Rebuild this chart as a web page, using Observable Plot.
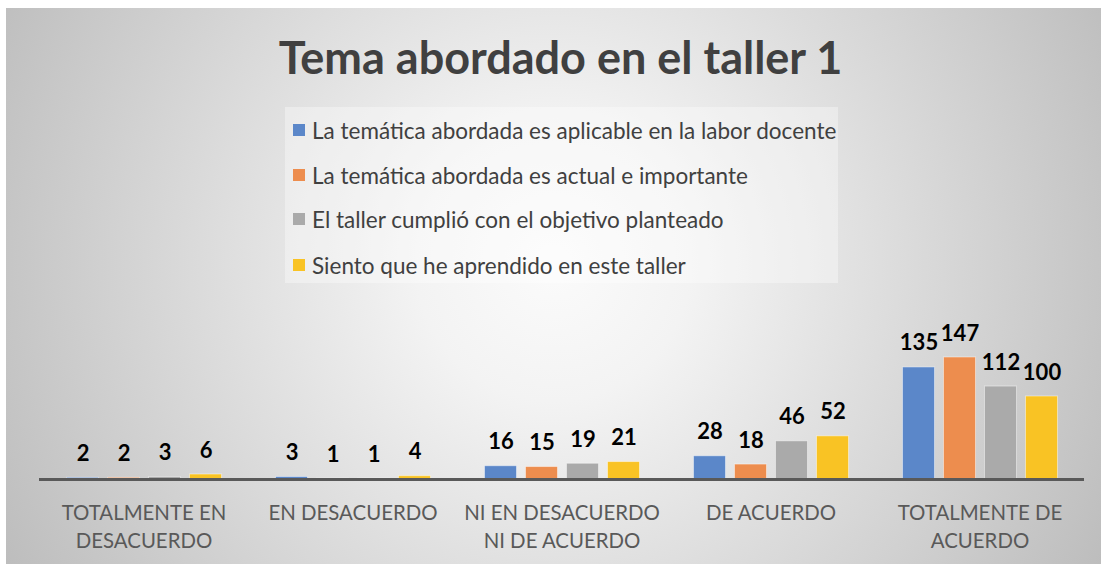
<!DOCTYPE html>
<html>
<head>
<meta charset="utf-8">
<script src="https://cdn.jsdelivr.net/npm/d3@7"></script>
<script src="https://cdn.jsdelivr.net/npm/@observablehq/plot@0.6"></script>
<style>
  body { margin: 0; background: #fff; }
  #wrap { position: relative; width: 1104px; height: 564px; overflow: hidden; background: #fff; font-family: Lato, "Open Sans", sans-serif; }
  #bg { position: absolute; left: 6px; top: 8px; width: 1095px; height: 556px;
        background: radial-gradient(circle farthest-corner at 50% 46%, #fbfbfb 0%, #f3f3f3 22%, #bdbdbd 100%); }
  #title { position: absolute; left: 0; width: 1121px; top: 35px; text-align: center; font-weight: 700;
           font-size: 45px; line-height: 45px; color: #404040; white-space: nowrap; }
  #legend { position: absolute; left: 285px; top: 107px; width: 553px; height: 176px; background: rgba(255,255,255,0.35); }
  .item { position: absolute; left: 8px; height: 22px; display: flex; align-items: center; font-size: 22.5px; color: #404040; white-space: nowrap; }
  .sw { width: 12px; height: 12px; margin-right: 7px; flex: none; }
  #chart { position: absolute; left: 0; top: 0; }
</style>
</head>
<body>
<div id="wrap">
  <div id="bg"></div>
  <div id="title">Tema abordado en el taller 1</div>
  <div id="legend"></div>
  <div id="chart"></div>
</div>
<script>
const categories = ["TOTALMENTE EN DESACUERDO", "EN DESACUERDO", "NI EN DESACUERDO NI DE ACUERDO", "DE ACUERDO", "TOTALMENTE DE ACUERDO"];
const categoryLabels = ["TOTALMENTE EN\nDESACUERDO", "EN DESACUERDO", "NI EN DESACUERDO\nNI DE ACUERDO", "DE ACUERDO", "TOTALMENTE DE\nACUERDO"];
const series = [
  "La temática abordada es aplicable en la labor docente",
  "La temática abordada es actual e importante",
  "El taller cumplió con el objetivo planteado",
  "Siento que he aprendido en este taller"
];
const aplicable = [2, 3, 16, 28, 135];
const actual    = [2, 1, 15, 18, 147];
const objetivo  = [3, 1, 19, 46, 112];
const aprendido = [6, 4, 21, 52, 100];
const colors = ["#5b87c9", "#ed8d4e", "#aaaaaa", "#f9c324"];

const seriesValues = [aplicable, actual, objetivo, aprendido];
const rows = [];
categories.forEach((c, i) => {
  series.forEach((s, j) => rows.push({category: c, series: s, value: seriesValues[j][i]}));
});

// legend
const legend = document.getElementById("legend");
const legendCenters = [23, 68, 112, 158];
series.forEach((s, j) => {
  const it = document.createElement("div");
  it.className = "item";
  it.style.top = (legendCenters[j] - 11) + "px";
  const sw = document.createElement("div");
  sw.className = "sw";
  sw.style.background = colors[j];
  const t = document.createElement("span");
  t.textContent = s;
  it.appendChild(sw); it.appendChild(t);
  legend.appendChild(it);
});

const chart = Plot.plot({
  width: 1104,
  height: 564,
  marginLeft: 37.5,
  marginRight: 19,
  marginTop: 354.5,
  marginBottom: 85,
  style: {background: "transparent", fontFamily: "Lato, 'Open Sans', sans-serif", overflow: "visible"},
  fx: {domain: categories, padding: 0, axis: null},
  x: {domain: series, paddingInner: 0.23, paddingOuter: 0.64, axis: null},
  y: {domain: [0, 150], axis: null},
  color: {domain: series, range: colors},
  marks: [
    Plot.barY(rows, {fx: "category", x: "series", y: "value", fill: "series", stroke: "#ffffff", strokeOpacity: 0.45, strokeWidth: 1}),
    Plot.ruleY([0], {stroke: "#595959", strokeWidth: 3}),
    Plot.text(rows, {fx: "category", x: "series", y: "value", text: d => String(d.value), dy: -24, lineAnchor: "middle",
                     fontWeight: 700, fontSize: 22, fill: "#000"}),
    Plot.text(categories, {fx: d => d, text: (d, i) => categoryLabels[i], frameAnchor: "bottom", lineAnchor: "top",
                           dy: 20, fontSize: 20.4, fill: "#595959", lineHeight: 1.4})
  ]
});
document.getElementById("chart").appendChild(chart);
</script>
</body>
</html>
